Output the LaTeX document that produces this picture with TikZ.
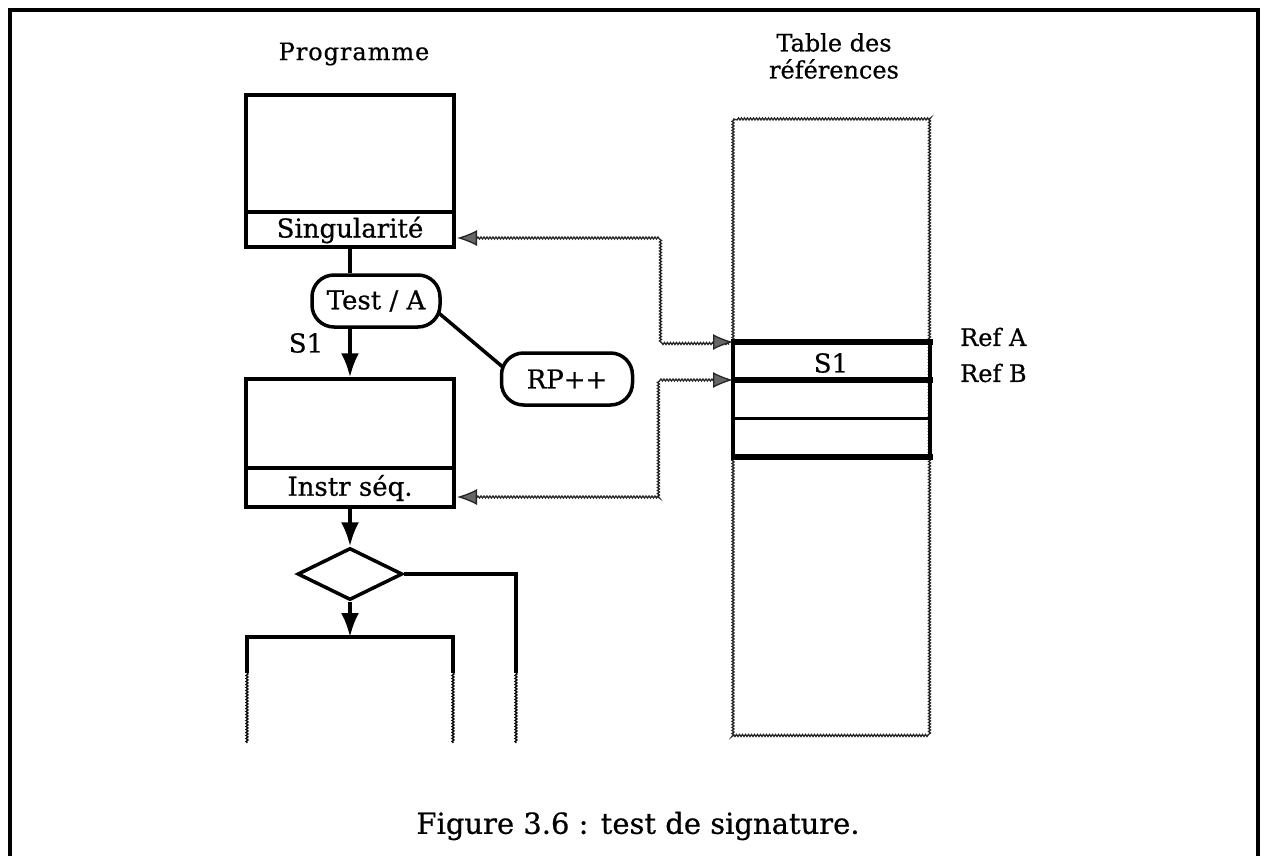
\documentclass[tikz,border=0pt]{standalone}
\usepackage{fontspec}
\setmainfont{DejaVu Serif}[FakeBold=0.6]
\usetikzlibrary{arrows.meta,shapes.geometric,decorations.pathmorphing,calc,backgrounds}
\newcommand\lblfont{\fontsize{26}{30}\selectfont}
\newcommand\ttlfont{\fontsize{24}{27}\selectfont}
\newcommand\reffont{\fontsize{24}{28}\selectfont}
\newcommand\capfont{\fontsize{29}{34}\selectfont}
\begin{document}
\begin{tikzpicture}[x=1pt,y=-1pt,
  blk/.style={line width=3.5pt},
  box/.style={draw,line width=3.5pt,fill=white,inner sep=0pt},
  pill/.style={draw,line width=3.5pt,rounded corners=22pt,fill=white,inner sep=0pt,font=\lblfont},
  lbl/.style={inner sep=0pt,font=\lblfont},
  ttl/.style={inner sep=0pt,font=\ttlfont,align=center},
  arr/.style={line width=3.5pt,-{Latex[length=24pt,width=18pt]}},
  wavyline/.style={decorate,decoration={snake,amplitude=1pt,segment length=3pt},line width=1.3pt},
  gtip/.style={Latex[length=20pt,width=16pt,fill=black!60,line width=1pt]},
  gconn/.style={decorate,decoration={snake,amplitude=1pt,segment length=3pt,pre length=5pt,post length=5pt},
    line width=1.3pt,draw=black!85,{Latex[length=20pt,width=16pt,fill=black!60]}-{Latex[length=20pt,width=16pt,fill=black!60]}},
  rowthick/.style={line width=5.5pt},
  rowthin/.style={line width=3pt}
]
\useasboundingbox (0,0) rectangle (1268,856);
% frame
\draw[line width=3.5pt] (10,856) -- (10,10) -- (1258,10) -- (1258,856);

% titles
\node[ttl] (prog) at (354,54) {\addfontfeature{LetterSpace=4}Programme};
\node[ttl] (tab) at (834,56) {Table des\\références};

% program boxes
\node[box,minimum width=208pt,minimum height=152pt] (b1) at (350,171) {};
\draw[blk] (b1.west |- 0,212) -- (b1.east |- 0,212);
\node[lbl] (sing) at (350,230) {Singularité};

\node[pill,minimum width=128pt,minimum height=52pt] (test) at (376,301) {Test / A};
\node[pill,minimum width=131pt,minimum height=52pt] (rp) at (567,379) {RP++};

\node[box,minimum width=208pt,minimum height=128pt] (b2) at (350,443) {};
\draw[blk] (b2.west |- 0,468) -- (b2.east |- 0,468);
\node[lbl] (instr) at (350,488) {Instr séq.};

\node[draw,diamond,line width=3.5pt,minimum width=105pt,minimum height=52pt,inner sep=0pt] (dia) at (350,574) {};

\coordinate (b3) at (350,637);
\coordinate (br) at (516,673);

\begin{scope}[on background layer]
  \draw[blk] ($(test.east)+(-3,12)$) -- ($(rp.west)+(3,-12)$);
  \draw[blk] (b1.south) -- (b1.south |- test.north);
\end{scope}

\node[lbl] (s1) at (306,343) {S1};
\draw[arr] (b1.south |- test.south) -- (b1.south |- b2.north);
\draw[arr] (b2.south) -- (dia.north);
\draw[arr] (dia.south) -- (b3);

% third box (cut)
\draw[blk] (247,673) -- (247,637) -- (453,637) -- (453,673);
\draw[wavyline] (247,673) -- (247,743);
\draw[wavyline] (453,673) -- (453,743);
\draw[blk] (dia.east) -| (br);
\draw[wavyline] (br) -- (516,743);

% table
\draw[wavyline,draw=black!85] (733,119) rectangle (930,735);
\draw[line width=4pt] (733,342) -- (733,457);
\draw[line width=4pt] (930,342) -- (930,457);
\draw[rowthick] (731,342) -- (933,342);
\draw[rowthick] (731,380) -- (933,380);
\draw[rowthin] (731,418) -- (932,418);
\draw[rowthick] (731,457) -- (933,457);
\node[lbl] (ts1) at (831,363) {S1};
\node[inner sep=0pt,font=\reffont,anchor=west] (refa) at (960,337) {Ref A};
\node[inner sep=0pt,font=\reffont,anchor=west] (refb) at (960,373) {Ref B};
\coordinate (ta) at (733,342);
\coordinate (tb) at (733,380);

% reference connectors
\coordinate (singR) at (457,238);
\coordinate (instrR) at (457,497);
\draw[gconn] (singR) -- (658,238) |- (ta);
\draw[gconn] (instrR) -- (658,497) |- (tb);

% caption
\node[inner sep=0pt,font=\capfont] (cap) at (638,826) {Figure 3.6 : test de signature.};
\end{tikzpicture}
\end{document}
